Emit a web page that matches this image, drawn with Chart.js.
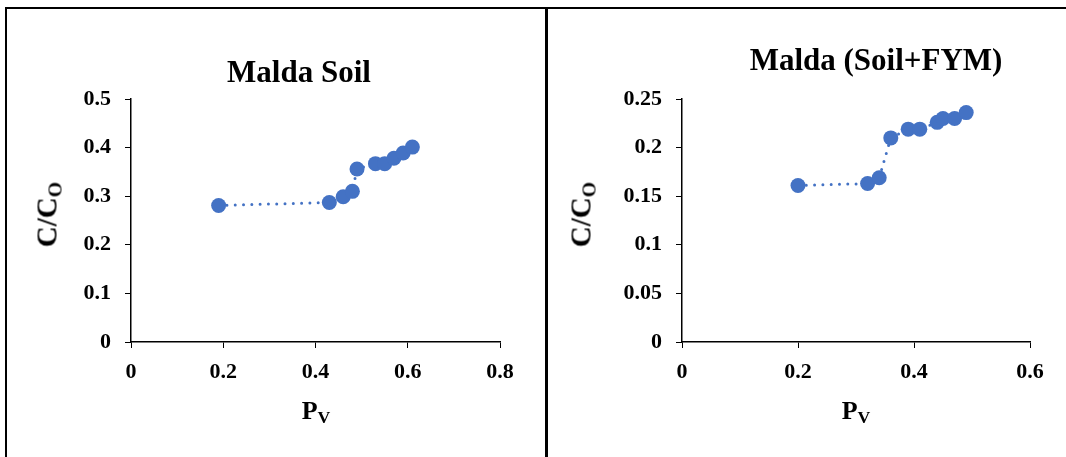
<!DOCTYPE html>
<html>
<head>
<meta charset="utf-8">
<script src="https://cdn.jsdelivr.net/npm/chart.js@4.4.1/dist/chart.umd.min.js"></script>
<style>
body { margin: 0; background: #fff; }
#wrap { position: relative; width: 1066px; height: 457px; overflow: hidden;
        font-family: "Liberation Serif", "Times New Roman", serif; font-weight: bold; color: #000; }
canvas { position: absolute; top: 0; }
.rule { position: absolute; background: #000; }
.ttl { position: absolute; width: 400px; font-size: 31px; line-height: 31px; text-align: center; white-space: nowrap; }
.xt { position: absolute; width: 100px; font-size: 26px; line-height: 26px; text-align: center; white-space: nowrap; }
.yt { position: absolute; width: 200px; height: 29px; font-size: 29px; line-height: 29px; text-align: center;
      white-space: nowrap; transform: rotate(-90deg); }
sub { font-size: 0.68em; vertical-align: -0.25em; line-height: 0; }
</style>
</head>
<body>
<div id="wrap">
  <canvas id="left" width="546" height="457" style="left:0"></canvas>
  <canvas id="right" width="518" height="457" style="left:548px"></canvas>

  <div class="rule" style="left:5px;top:7px;width:1061px;height:2px"></div>
  <div class="rule" style="left:5px;top:7px;width:2px;height:450px"></div>
  <div class="rule" style="left:545px;top:7px;width:3px;height:450px"></div>

  <div class="ttl" style="left:99px;top:56px">Malda Soil</div>
  <div class="ttl" style="left:676px;top:44px">Malda (Soil+FYM)</div>

  <div class="xt" style="left:266px;top:398px">P<sub>V</sub></div>
  <div class="xt" style="left:806px;top:398px">P<sub>V</sub></div>

  <div class="yt" style="left:-53px;top:200px">C/C<sub>O</sub></div>
  <div class="yt" style="left:481px;top:200px">C/C<sub>O</sub></div>
</div>

<script>
// Malda Soil
const soilPv = [0.19, 0.43, 0.46, 0.48, 0.49, 0.53, 0.55, 0.57, 0.59, 0.61];
const soilC  = [0.281, 0.287, 0.299, 0.310, 0.356, 0.367, 0.367, 0.378, 0.389, 0.401];
const soilXTicks = [0, 0.2, 0.4, 0.6, 0.8];
const soilYTicks = [0, 0.1, 0.2, 0.3, 0.4, 0.5];

// Malda (Soil+FYM)
const fymPv = [0.20, 0.32, 0.34, 0.36, 0.39, 0.41, 0.44, 0.45, 0.47, 0.49];
const fymC  = [0.161, 0.163, 0.169, 0.210, 0.219, 0.219, 0.226, 0.230, 0.230, 0.236];
const fymXTicks = [0, 0.2, 0.4, 0.6];
const fymYTicks = [0, 0.05, 0.1, 0.15, 0.2, 0.25];

const blue = '#4472C4';

Chart.defaults.font.family = '"Liberation Serif", "Times New Roman", serif';
Chart.defaults.color = '#000';

function fmt(v) {
    return String(parseFloat(Number(v).toFixed(2)));
}

function axis(ticksArr, tickLen, pad, fit) {
    return {
        type: 'linear',
        min: ticksArr[0],
        max: ticksArr[ticksArr.length - 1],
        afterBuildTicks: s => { s.ticks = ticksArr.map(v => ({ value: v })); },
        afterFit: fit,
        ticks: {
            autoSkip: false,
            maxRotation: 0,
            padding: pad,
            color: '#000',
            font: { size: 22, weight: 'bold' },
            callback: v => fmt(v)
        },
        grid: { drawOnChartArea: false, drawTicks: true, tickLength: tickLen, color: '#000', lineWidth: 1 },
        border: { display: true, color: '#000', width: 1.5 }
    };
}

function makeChart(id, xs, ys, xTicks, yTicks, padding, yPad) {
    const ctx = document.getElementById(id).getContext('2d');
    return new Chart(ctx, {
        type: 'scatter',
        data: {
            datasets: [{
                data: xs.map((x, i) => ({ x: x, y: ys[i] })),
                showLine: true,
                borderColor: blue,
                borderWidth: 3,
                borderDash: [0, 8.3],
                borderCapStyle: 'round',
                pointRadius: 7.5,
                pointHoverRadius: 7.5,
                pointBackgroundColor: blue,
                pointBorderWidth: 0
            }]
        },
        options: {
            responsive: false,
            animation: false,
            devicePixelRatio: 1,
            layout: { padding: padding },
            plugins: { legend: { display: false }, tooltip: { enabled: false }, title: { display: false } },
            scales: {
                x: axis(xTicks, 6, 11, s => { s.height = 40; }),
                y: axis(yTicks, 6, yPad, s => { s.width = 60; })
            }
        }
    });
}

makeChart('left', soilPv, soilC, soilXTicks, soilYTicks, { left: 71, right: 46, top: 99, bottom: 75 }, 14);
makeChart('right', fymPv, fymC, fymXTicks, fymYTicks, { left: 74, right: 36, top: 99, bottom: 75 }, 14);
</script>
</body>
</html>
